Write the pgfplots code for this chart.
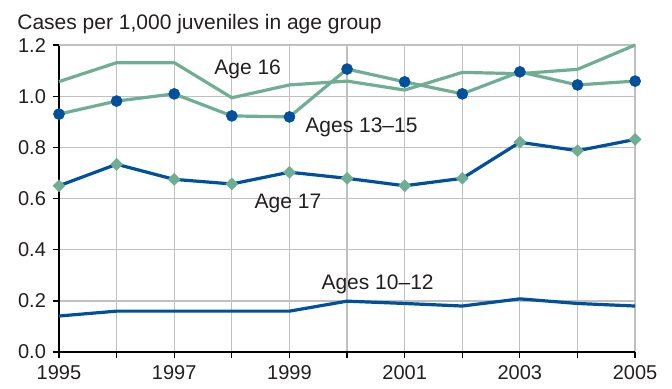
\documentclass[border=0pt]{standalone}
\usepackage{pgfplots}
\pgfplotsset{compat=1.18}
\usepackage{fontspec}
\setmainfont{Liberation Sans}
\definecolor{teal1}{RGB}{112,174,148}
\definecolor{blue1}{RGB}{0,80,155}
\definecolor{grid1}{RGB}{192,192,192}
\definecolor{txt}{RGB}{35,31,32}
\begin{document}
\begin{tikzpicture}
\begin{axis}[
  scale only axis,
  width=288pt, height=153.5pt,
  xmin=1995, xmax=2005, ymin=0, ymax=1.2,
  axis lines*=left,
  axis line style={black, line width=0.6pt},
  xtick={1995,...,2005},
  xticklabels={1995,,1997,,1999,,2001,,2003,,2005},
  ytick={0,0.2,...,1.2},
  yticklabel style={/pgf/number format/.cd, fixed, fixed zerofill, precision=1},
  /pgf/number format/assume math mode=true,
  tick label style={font=\fontsize{10}{12}\selectfont, text=txt},
  tick align=outside,
  major tick length=3pt,
  tick style={black, line width=0.6pt},
  grid=major,
  major grid style={grid1, line width=0.6pt},
  clip=false,
  every axis plot/.append style={line width=1.6pt},
]
% bounding box to match reference proportions
\path (axis description cs:-0.1024,-0.117) rectangle (axis description cs:1.064,1.1466);
% grid lines on right and top
\draw[grid1, line width=0.6pt] (axis cs:1995,1.2) -- (axis cs:2005,1.2) -- (axis cs:2005,0);

% Age 16
\addplot[teal1, no markers] coordinates {
(1995,1.057) (1996,1.131) (1997,1.131) (1998,0.994) (1999,1.044) (2000,1.059)
(2001,1.024) (2002,1.093) (2003,1.088) (2004,1.105) (2005,1.200)};
% Ages 13-15
\addplot[teal1, mark=*, mark size=2.75pt, mark options={fill=blue1, draw=blue1, line width=0.3pt}] coordinates {
(1995,0.930) (1996,0.981) (1997,1.009) (1998,0.923) (1999,0.919) (2000,1.106)
(2001,1.056) (2002,1.009) (2003,1.095) (2004,1.044) (2005,1.059)};
% Age 17
\addplot[blue1, mark=square*, mark size=2.1pt, mark options={fill=teal1, draw=teal1, rotate=45, line width=0.3pt}] coordinates {
(1995,0.650) (1996,0.734) (1997,0.675) (1998,0.657) (1999,0.703) (2000,0.679)
(2001,0.650) (2002,0.679) (2003,0.820) (2004,0.787) (2005,0.831)};
% Ages 10-12
\addplot[blue1, no markers] coordinates {
(1995,0.141) (1996,0.160) (1997,0.160) (1998,0.160) (1999,0.160) (2000,0.199)
(2001,0.190) (2002,0.180) (2003,0.208) (2004,0.190) (2005,0.180)};

\begin{scope}[every node/.style={anchor=base west, inner sep=0pt, font=\fontsize{10.5}{12}\selectfont, text=txt}]
\node at (axis cs:1997.69,1.083) {Age 16};
\node at (axis cs:1999.27,0.857) {Ages 13–15};
\node at (axis cs:1998.39,0.5616) {Age 17};
\node at (axis cs:1999.55,0.245) {Ages 10–12};
\node at (axis description cs:0,1) [xshift=-21pt, yshift=8pt] {Cases per 1,000 juveniles in age group};
\end{scope}
\end{axis}
\end{tikzpicture}
\end{document}
